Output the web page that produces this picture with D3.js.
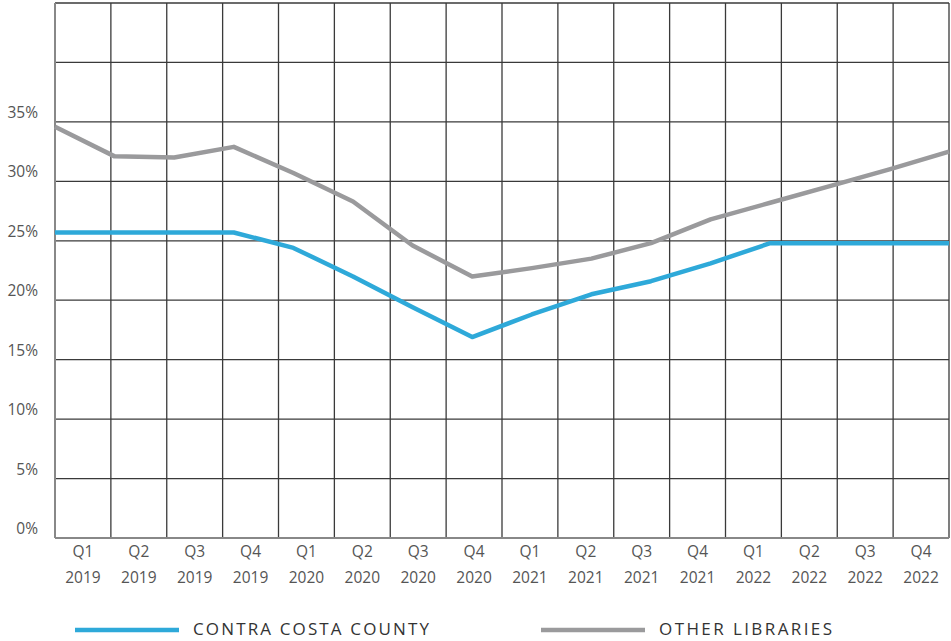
<!DOCTYPE html>
<html>
<head>
<meta charset="utf-8">
<script src="https://cdn.jsdelivr.net/npm/d3@7"></script>
<style>
    body { margin: 0; background: #fff; }
    text { font-family: "Open Sans", sans-serif; }
</style>
</head>
<body>
<svg id="chart" width="951" height="641"></svg>
<script>
// quarters shown under the x axis (two lines each)
var quarters = ["Q1", "Q2", "Q3", "Q4", "Q1", "Q2", "Q3", "Q4", "Q1", "Q2", "Q3", "Q4", "Q1", "Q2", "Q3", "Q4"];
var years = ["2019", "2019", "2019", "2019", "2020", "2020", "2020", "2020", "2021", "2021", "2021", "2021", "2022", "2022", "2022", "2022"];

// percent values
var contraCosta = [25.7, 25.7, 25.7, 25.7, 24.4, 22.0, 19.4, 16.9, 18.8, 20.5, 21.6, 23.1, 24.8, 24.8, 24.8, 24.8];
var otherLibraries = [34.6, 32.1, 32.0, 32.9, 30.7, 28.3, 24.6, 22.0, 22.7, 23.5, 24.8, 26.8, 28.2, 29.6, 31.0, 32.5];

var yTicks = [0, 5, 10, 15, 20, 25, 30, 35];
var yGrid = [0, 5, 10, 15, 20, 25, 30, 35, 40, 45];

var series = [
    { name: "CONTRA COSTA COUNTY", values: contraCosta, color: "#2ea9d9" },
    { name: "OTHER LIBRARIES", values: otherLibraries, color: "#9a9a9c" }
];

(function () {
    var svg = d3.select("#chart"),
        margin = { top: 3, right: 2, bottom: 103, left: 55 },
        width = +svg.attr("width") - margin.left - margin.right,
        height = +svg.attr("height") - margin.top - margin.bottom,
        g = svg.append("g").attr("transform", "translate(" + margin.left + "," + margin.top + ")");

    var idx = d3.range(quarters.length);

    // bands for the grid columns and labels
    var xBand = d3.scaleBand().domain(idx).range([0, width]);
    // points for the lines, edge to edge
    var xPoint = d3.scalePoint().domain(idx).range([0, width]);

    var y = d3.scaleLinear().domain([0, 45]).range([height, 0]);

    // horizontal grid
    g.append("g")
        .selectAll("line")
        .data(yGrid)
        .enter().append("line")
        .attr("x1", 0)
        .attr("x2", width)
        .attr("y1", function (d) { return y(d); })
        .attr("y2", function (d) { return y(d); })
        .attr("stroke", "#3a3a3a")
        .attr("stroke-width", 1.3);

    // vertical grid
    g.append("g")
        .selectAll("line")
        .data(idx.concat([quarters.length]))
        .enter().append("line")
        .attr("x1", function (d) { return d === quarters.length ? width : xBand(d); })
        .attr("x2", function (d) { return d === quarters.length ? width : xBand(d); })
        .attr("y1", 0)
        .attr("y2", height)
        .attr("stroke", "#3a3a3a")
        .attr("stroke-width", 1.3);

    // left and bottom axis lines are lighter and heavier
    g.append("line")
        .attr("x1", 0).attr("x2", 0)
        .attr("y1", 0).attr("y2", height)
        .attr("stroke", "#888").attr("stroke-width", 2);
    g.append("line")
        .attr("x1", 0).attr("x2", width)
        .attr("y1", height).attr("y2", height)
        .attr("stroke", "#888").attr("stroke-width", 2);

    // y labels sit just above their gridline
    g.append("g")
        .selectAll("text")
        .data(yTicks)
        .enter().append("text")
        .attr("x", -17)
        .attr("y", function (d) { return y(d) - 4; })
        .attr("text-anchor", "end")
        .attr("fill", "#555")
        .style("font-size", "15.5px")
        .text(function (d) { return d + "%"; });

    // x labels
    var xl = g.append("g")
        .selectAll("text")
        .data(idx)
        .enter().append("text")
        .attr("x", function (d) { return xBand(d) + xBand.bandwidth() / 2; })
        .attr("y", height + 19)
        .attr("text-anchor", "middle")
        .attr("fill", "#555")
        .style("font-size", "15.5px");
    xl.append("tspan")
        .attr("x", function (d) { return xBand(d) + xBand.bandwidth() / 2; })
        .text(function (d) { return quarters[d]; });
    xl.append("tspan")
        .attr("x", function (d) { return xBand(d) + xBand.bandwidth() / 2; })
        .attr("dy", 26)
        .text(function (d) { return years[d]; });

    var line = d3.line()
        .x(function (d, i) { return xPoint(i); })
        .y(function (d) { return y(d); });

    // draw other libraries first so blue sits on top
    series.slice().reverse().forEach(function (s) {
        g.append("path")
            .datum(s.values)
            .attr("fill", "none")
            .attr("stroke", s.color)
            .attr("stroke-width", 4.5)
            .attr("stroke-linejoin", "round")
            .attr("d", line);
    });

    // legend
    var legendX = [75, 541];
    var leg = svg.append("g")
        .selectAll("g")
        .data(series)
        .enter().append("g")
        .attr("transform", function (d, i) { return "translate(" + legendX[i] + ",630)"; });
    leg.append("line")
        .attr("x1", 0).attr("x2", 104)
        .attr("stroke", function (d) { return d.color; })
        .attr("stroke-width", 4.5);
    leg.append("text")
        .attr("x", 118)
        .attr("y", 5)
        .attr("fill", "#333")
        .style("font-size", "17px")
        .attr("textLength", function (d, i) { return i === 0 ? 236 : 173; })
        .text(function (d) { return d.name; });
})();
</script>
</body>
</html>
